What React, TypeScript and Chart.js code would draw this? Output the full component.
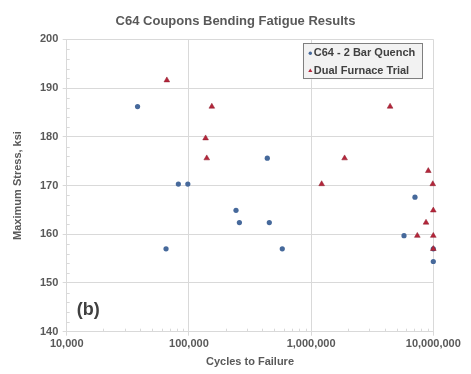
import React, { useEffect, useRef } from "react";
import { Chart, registerables } from "chart.js";

Chart.register(...registerables);

const TITLE = "C64 Coupons Bending Fatigue Results";
const X_TITLE = "Cycles to Failure";
const Y_TITLE = "Maximum Stress, ksi";
const PANEL_LABEL = "(b)";

const X_TICKS = [10000, 100000, 1000000, 10000000];
const Y_MIN = 140;
const Y_MAX = 200;
const Y_STEP = 10;

const quenchLabel = "C64 - 2 Bar Quench";
const quenchCycles = [38000, 82000, 98000, 65000, 243000, 259000, 455000, 581000, 438000, 7080000, 5760000, 10000000, 10000000];
const quenchStress = [186.2, 170.3, 170.3, 157.0, 164.9, 162.4, 162.4, 157.0, 175.6, 167.6, 159.7, 154.4, 157.0];

const dualLabel = "Dual Furnace Trial";
const dualCycles = [66000, 154000, 137000, 140000, 4430000, 1880000, 1220000, 9100000, 9900000, 10000000, 8720000, 7400000, 10000000, 10000000];
const dualStress = [191.6, 186.2, 179.7, 175.6, 186.2, 175.6, 170.3, 173.0, 170.3, 164.9, 162.4, 159.7, 159.7, 157.0];

const FONT = "'Liberation Sans', Arial, sans-serif";
const GRAY = "#595959";
const DARK = "#404040";
const GRID = "#d9d9d9";
const BLUE = "#46699b";
const RED = "#b5253a";

const drawMarker = (ctx: CanvasRenderingContext2D, style: string, x: number, y: number, r: number, color: string) => {
  ctx.beginPath();
  if (style === "triangle") {
    ctx.moveTo(x, y - r);
    ctx.lineTo(x + r * 0.95, y + r * 0.6);
    ctx.lineTo(x - r * 0.95, y + r * 0.6);
    ctx.closePath();
  } else {
    ctx.arc(x, y, r, 0, Math.PI * 2);
  }
  ctx.fillStyle = color;
  ctx.fill();
};

const extrasPlugin = {
  id: "extras",
  beforeDatasetsDraw(chart: any) {
    const { ctx, chartArea, scales } = chart;
    const xs = scales.x;
    const ys = scales.y;
    ctx.save();
    ctx.strokeStyle = GRID;
    ctx.lineWidth = 1;
    for (let d = 4; d < 7; d++) {
      for (let k = 2; k <= 9; k++) {
        const px = Math.round(xs.getPixelForValue(k * Math.pow(10, d))) + 0.5;
        ctx.beginPath();
        ctx.moveTo(px, chartArea.bottom);
        ctx.lineTo(px, chartArea.bottom - 3);
        ctx.stroke();
      }
    }
    for (let v = Y_MIN + 2; v < Y_MAX; v += 2) {
      if (v % Y_STEP === 0) continue;
      const py = Math.round(ys.getPixelForValue(v)) + 0.5;
      ctx.beginPath();
      ctx.moveTo(chartArea.left, py);
      ctx.lineTo(chartArea.left + 3, py);
      ctx.stroke();
    }
    ctx.restore();
  },
  afterDraw(chart: any) {
    const { ctx, chartArea } = chart;
    ctx.save();
    ctx.fillStyle = GRAY;
    ctx.font = `bold 13px ${FONT}`;
    ctx.textAlign = "center";
    ctx.textBaseline = "middle";
    ctx.fillText(TITLE, chart.width / 2, 21);
    ctx.fillStyle = DARK;
    ctx.font = `bold 18px ${FONT}`;
    ctx.textAlign = "left";
    ctx.fillText(PANEL_LABEL, chartArea.left + 10, chartArea.bottom - 22);
    const w = 120;
    const h = 36;
    const x = chartArea.right - 10.5 - w;
    const y = chartArea.top + 4;
    ctx.fillStyle = "#f2f2f2";
    ctx.fillRect(x, y, w, h);
    ctx.strokeStyle = "#7f7f7f";
    ctx.lineWidth = 1;
    ctx.strokeRect(Math.round(x) + 0.5, Math.round(y) + 0.5, w - 1, h - 1);
    ctx.font = `bold 11px ${FONT}`;
    ctx.textBaseline = "middle";
    chart.data.datasets.forEach((ds: any, i: number) => {
      const cy = y + 10 + i * 17.5;
      drawMarker(ctx, ds.pointStyle, x + 7.5, cy, ds.pointStyle === "triangle" ? 2.2 : 1.7, ds.pointBackgroundColor);
      ctx.fillStyle = DARK;
      ctx.fillText(ds.label, x + 11, cy);
    });
    ctx.restore();
  },
};

export default function App() {
  const ref = useRef<HTMLCanvasElement | null>(null);

  useEffect(() => {
    document.body.style.margin = "0";
    if (!ref.current) return;
    const tickFont = { family: FONT, size: 11, weight: "bold" as const };
    const chart = new Chart(ref.current, {
      type: "scatter",
      data: {
        datasets: [
          {
            label: quenchLabel,
            data: quenchCycles.map((c, i) => ({ x: c, y: quenchStress[i] })),
            pointStyle: "circle",
            pointRadius: 2.6,
            pointBackgroundColor: BLUE,
            pointBorderColor: BLUE,
            pointBorderWidth: 0,
            clip: false,
            order: 2,
          } as any,
          {
            label: dualLabel,
            data: dualCycles.map((c, i) => ({ x: c, y: dualStress[i] })),
            pointStyle: "triangle",
            pointRadius: 3.3,
            pointBackgroundColor: RED,
            pointBorderColor: "#8c1c2c",
            pointBorderWidth: 0.5,
            clip: false,
            order: 1,
          } as any,
        ],
      },
      options: {
        responsive: false,
        animation: false,
        layout: { padding: { top: 39.3, right: 37.7, bottom: 0, left: 0 } },
        plugins: {
          legend: { display: false },
          title: { display: false },
          tooltip: { enabled: false },
        },
        scales: {
          x: {
            type: "logarithmic",
            min: X_TICKS[0],
            max: X_TICKS[X_TICKS.length - 1],
            afterBuildTicks: (scale: any) => {
              scale.ticks = X_TICKS.map((v) => ({ value: v, major: true }));
            },
            afterFit: (scale: any) => {
              scale.height = 42.3;
              scale.paddingLeft = 0;
              scale.paddingRight = 0;
            },
            ticks: {
              autoSkip: false,
              maxRotation: 0,
              padding: 2,
              color: GRAY,
              font: tickFont,
              callback: (v: any) => Number(v).toLocaleString("en-US"),
            },
            grid: { color: GRID, tickColor: GRID, tickLength: 4, drawTicks: true },
            border: { color: GRID },
            title: {
              display: true,
              text: X_TITLE,
              color: GRAY,
              font: tickFont,
              padding: { top: 0, bottom: 5.4 },
            },
          },
          y: {
            min: Y_MIN,
            max: Y_MAX,
            afterFit: (scale: any) => {
              scale.width = 66.7;
              scale.paddingTop = 0;
              scale.paddingBottom = 0;
            },
            ticks: {
              stepSize: Y_STEP,
              padding: 4.4,
              color: GRAY,
              font: tickFont,
            },
            grid: { color: GRID, tickColor: GRID, tickLength: 4, drawTicks: true },
            border: { color: GRID },
            title: {
              display: true,
              text: Y_TITLE,
              color: GRAY,
              font: tickFont,
              padding: { top: 11.4, bottom: 0 },
            },
          },
        },
      } as any,
      plugins: [extrasPlugin],
    });
    return () => chart.destroy();
  }, []);

  return (
    <div style={{ position: "fixed", left: 0, top: 0, width: 471, height: 374, background: "#fff" }}>
      <canvas ref={ref} width={471} height={374} />
    </div>
  );
}
